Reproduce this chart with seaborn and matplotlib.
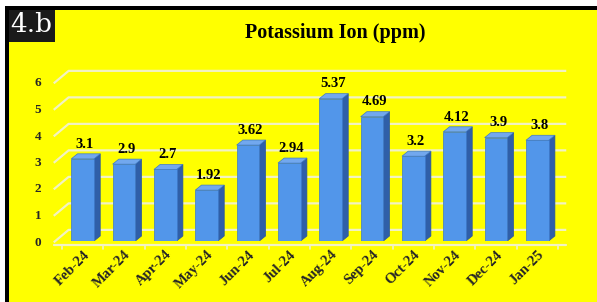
import matplotlib
matplotlib.use("Agg")
import matplotlib.pyplot as plt
import seaborn as sns
import pandas as pd
from matplotlib.patches import Polygon, Rectangle

months = ["Feb-24", "Mar-24", "Apr-24", "May-24", "Jun-24", "Jul-24",
          "Aug-24", "Sep-24", "Oct-24", "Nov-24", "Dec-24", "Jan-25"]
values = [3.1, 2.9, 2.7, 1.92, 3.62, 2.94, 5.37, 4.69, 3.2, 4.12, 3.9, 3.8]
value_labels = ["3.1", "2.9", "2.7", "1.92", "3.62", "2.94", "5.37", "4.69",
                "3.2", "4.12", "3.9", "3.8"]
yticks = [0, 1, 2, 3, 4, 5, 6]
title = "Potassium Ion (ppm)"
panel_tag = "4.b"

df = pd.DataFrame({"month": months, "value": values})

sns.set_theme(style="white")
plt.rcParams["font.family"] = ["Liberation Serif", "DejaVu Serif"]

YEL = "#FFFF00"
fig = plt.figure(figsize=(5.97, 3.02), dpi=100, facecolor=YEL)
# white margins and black top/left frame
fig.patches.append(Rectangle((0, 0), 5 / 597, 1, transform=fig.transFigure,
                             facecolor="white", edgecolor="none", zorder=1))
fig.patches.append(Rectangle((0, 1 - 6 / 302), 1, 6 / 302, transform=fig.transFigure,
                             facecolor="white", edgecolor="none", zorder=1))
fig.patches.append(Rectangle((5 / 597, 0), 4 / 597, 1 - 6 / 302, transform=fig.transFigure,
                             facecolor="black", edgecolor="none", zorder=1))
fig.patches.append(Rectangle((5 / 597, 1 - 10 / 302), 1, 4 / 302, transform=fig.transFigure,
                             facecolor="black", edgecolor="none", zorder=1))
# tag box
fig.patches.append(Rectangle((9 / 597, 1 - 42 / 302), 46 / 597, 32 / 302,
                             transform=fig.transFigure, facecolor="#1a1a1a",
                             edgecolor="none", zorder=2))
fig.text(31 / 597, 1 - 25 / 302, panel_tag, color="white", fontsize=19,
         family=["DejaVu Serif"], ha="center", va="center", zorder=3)

fig.text(335 / 597, 1 - 33 / 302, title, fontsize=14.5, fontweight="bold",
         ha="center", va="center", color="black")

ax = fig.add_axes([62 / 597, 1 - 241 / 302, (558 - 62) / 597, (241 - 82) / 302 * 6.2 / 6])
ax.set_zorder(5)
ax.set_facecolor("none")

sns.barplot(data=df, x="month", y="value", color="#5296EA", width=0.55,
            saturation=1, ax=ax, zorder=3, edgecolor="#3C78C8", linewidth=0.5)

ax.set_xlim(-0.5, len(months) - 0.5)
ax.set_ylim(0, 6.2)

# 3D-ish offsets (data units)
dx, dy = 0.15, 0.19
gdx, gdy = 0.36, 0.42
x0, x1 = ax.get_xlim()
for t in yticks:
    ax.plot([x0 - 0.2, x0 - 0.2 + gdx, x1 + 0.2], [t - 0.05, t + gdy, t + gdy],
            color="#F2F2C4", lw=1.6, zorder=1, clip_on=False, solid_capstyle="butt")

for p in ax.patches[:len(values)]:
    bx0 = p.get_x()
    bx1 = bx0 + p.get_width()
    h = p.get_height()
    side = Polygon([(bx1, 0), (bx1, h), (bx1 + dx, h + dy), (bx1 + dx, dy)],
                   closed=True, facecolor="#2F5FA8", edgecolor="#2A5598", lw=0.5, zorder=2.9)
    top = Polygon([(bx0, h), (bx1, h), (bx1 + dx, h + dy), (bx0 + dx, h + dy)],
                  closed=True, facecolor="#72A8EE", edgecolor="#3C78C8", lw=0.5, zorder=3.1)
    ax.add_patch(side)
    ax.add_patch(top)

for i, (v, lab) in enumerate(zip(values, value_labels)):
    ax.text(i + 0.05, v + dy + 0.12, lab, ha="center", va="bottom", fontsize=10.5,
            fontweight="bold", color="black", zorder=5)

# floor axis line with ticks
ax.plot([x0 - 0.2, x1 + 0.2], [-0.15, -0.15], color="#F2F2C4", lw=1.6, clip_on=False, zorder=1)
for b in range(len(months) + 1):
    ax.plot([b - 0.5, b - 0.5], [-0.15, -0.3], color="#F2F2C4", lw=1.2, clip_on=False, zorder=1)

for s in ax.spines.values():
    s.set_visible(False)
ax.set_yticks(yticks)
ax.set_yticklabels([str(t) for t in yticks], fontsize=9.5, fontweight="bold")
ax.tick_params(axis="y", length=0, pad=15)
ax.tick_params(axis="x", length=0, pad=5)
ax.set_xticks(range(len(months)))
ax.set_xticklabels(months, rotation=45, ha="right", rotation_mode="anchor",
                   fontsize=10.5, fontweight="bold")
ax.set_xlabel("")
ax.set_ylabel("")
ax.grid(False)

fig.savefig("out.png", dpi=100, facecolor=fig.get_facecolor())
